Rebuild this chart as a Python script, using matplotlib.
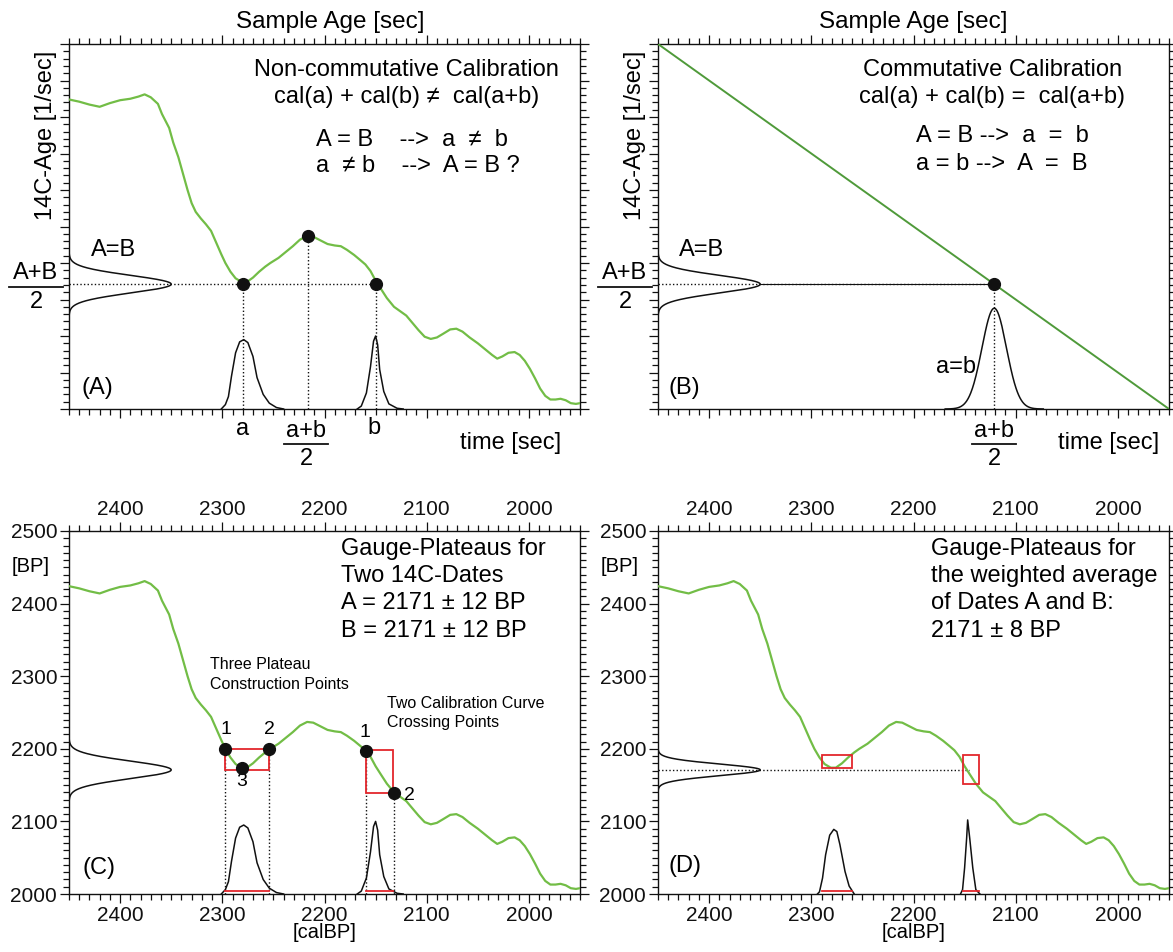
import numpy as np
import matplotlib
matplotlib.use("Agg")
import matplotlib.pyplot as plt
from matplotlib.ticker import MultipleLocator, NullFormatter
from matplotlib.patches import Rectangle
from matplotlib.lines import Line2D

# ── Style ────────────────────────────────────────────────────────────────────
GREEN = "#72bd46"
DGREEN = "#4f9a3a"
RED = "#e3262c"
INK = "#111111"

plt.rcParams.update({
    "font.family": ["Liberation Sans", "DejaVu Sans"],
    "axes.linewidth": 1.0,
    "axes.edgecolor": INK,
    "xtick.color": INK,
    "ytick.color": INK,
})

W, H = 1173, 952

# ── Data ─────────────────────────────────────────────────────────────────────
# calibration curve: calendar age [calBP] -> radiocarbon age [BP]
cal_year = [2450, 2440, 2430, 2420, 2410, 2400, 2390, 2382, 2376, 2370, 2363,
            2359, 2352, 2348, 2343, 2337, 2334, 2330, 2326, 2321, 2316, 2311,
            2306, 2301, 2297, 2292, 2287, 2281, 2276, 2270, 2264, 2258, 2253,
            2245, 2238, 2231, 2224, 2217, 2211, 2204, 2197, 2190, 2184, 2178,
            2171, 2165, 2160, 2155, 2150, 2145, 2139, 2132, 2126, 2120, 2114,
            2108, 2102, 2096, 2090, 2084, 2077, 2071, 2065, 2058, 2050, 2043,
            2036, 2031, 2026, 2020, 2014, 2009, 2004, 1999, 1994, 1989, 1984,
            1979, 1974, 1969, 1964, 1959, 1954, 1950]
cal_bp = [2424, 2421, 2417, 2414, 2419, 2423, 2425, 2428, 2431, 2427, 2418,
          2404, 2385, 2365, 2345, 2315, 2300, 2282, 2270, 2261, 2253, 2244,
          2228, 2212, 2200, 2188, 2179, 2174, 2174, 2180, 2188, 2195, 2200,
          2207, 2215, 2223, 2232, 2237, 2236, 2231, 2226, 2224, 2223, 2218,
          2211, 2204, 2198, 2189, 2176, 2165, 2152, 2140, 2134, 2128, 2118,
          2108, 2099, 2096, 2098, 2103, 2109, 2110, 2106, 2098, 2090, 2082,
          2074, 2069, 2072, 2077, 2078, 2074, 2066, 2055, 2042, 2028, 2018,
          2013, 2013, 2014, 2012, 2008, 2007, 2008]

# radiocarbon dates (BP)
date_mean = 2171
date_sd = 12
wavg_sd = 8

# calibrated probability (drawn as height above the 2000 BP baseline)
c_p1_year = [2301, 2297, 2294, 2291, 2287, 2283, 2279, 2275, 2270, 2266, 2260,
             2254, 2247, 2240]
c_p1_h = [0, 6, 17, 45, 77, 92, 95, 91, 72, 43, 20, 8, 2, 0]
c_p2_year = [2168, 2164, 2159, 2155, 2152, 2150, 2148, 2146, 2142, 2137, 2129,
             2123]
c_p2_h = [0, 4, 22, 58, 93, 100, 88, 54, 24, 7, 1, 0]
d_p1_year = [2294, 2292, 2289, 2286, 2282, 2278, 2275, 2272, 2267, 2263, 2258]
d_p1_h = [0, 3, 22, 54, 81, 89, 86, 68, 31, 11, 0]
d_p2_year = [2154, 2152, 2150, 2148, 2147, 2145, 2142, 2139, 2135]
d_p2_h = [0, 6, 36, 77, 102, 77, 36, 6, 0]

# plateau construction points (C) and gauge boxes
c_pts_year = [2297, 2254, 2281, 2159, 2132]
c_pts_bp = [2200, 2200, 2174, 2197, 2139]
c_pts_lab = ["1", "2", "3", "1", "2"]
c_box1 = (2297, 2254, 2171, 2200)
c_box2 = (2159, 2133, 2139, 2198)
d_box1 = (2290, 2260, 2173, 2192)
d_box2 = (2152, 2136, 2151, 2191)

# non-commutative example (A)
a_year, ab_year, b_year = 2280, 2216, 2150
ab_bp = 2237

# linear calibration (B)
lin_year = [2450, 1950]
lin_bp = [2500, 2000]
b_cross = 2121
b_peak_h = 138


def gauss(v, mu, sd, height):
    return height * np.exp(-0.5 * ((v - mu) / sd) ** 2)


def axrect(l, t, r, b):
    return [l / W, 1 - b / H, (r - l) / W, (b - t) / H]


def fx(x):
    return x / W


def fy(y):
    return 1 - y / H


def frame(ax, labels=True, ymaj=100):
    ax.set_xlim(2450, 1950)
    ax.set_ylim(2000, 2500)
    ax.xaxis.set_major_locator(MultipleLocator(100))
    ax.xaxis.set_minor_locator(MultipleLocator(10))
    ax.yaxis.set_major_locator(MultipleLocator(ymaj))
    ax.yaxis.set_minor_locator(MultipleLocator(10))
    ax.tick_params(which="both", direction="out", top=True, right=True,
                   width=0.9, labelsize=15, pad=2)
    ax.tick_params(which="major", length=6.5)
    ax.tick_params(which="minor", length=4.5)
    if labels:
        ax.tick_params(labeltop=True, labelbottom=True, labelleft=True)
    else:
        ax.xaxis.set_major_formatter(NullFormatter())
        ax.yaxis.set_major_formatter(NullFormatter())


def left_gauss(ax, sd):
    yy = np.linspace(date_mean - 5 * sd, date_mean + 5 * sd, 300)
    ax.plot(2450 - gauss(yy, date_mean, sd, 100), yy, color=INK, lw=1.1,
            zorder=3)


def vdot(ax, x, y0, y1):
    ax.plot([x, x], [y0, y1], color=INK, lw=1.0, ls=(0, (1, 1.6)), zorder=2)


def hdot(ax, x0, x1, y):
    ax.plot([x0, x1], [y, y], color=INK, lw=1.0, ls=(0, (1, 1.6)), zorder=2)


def box(ax, b):
    x0, x1, y0, y1 = b
    ax.add_patch(Rectangle((x1, y0), x0 - x1, y1 - y0, fill=False,
                           edgecolor=RED, lw=1.3, zorder=4))


def fraction(cx, ytop, ybar, ybot, top, halfw, size=17):
    fig.text(fx(cx), fy(ytop), top, ha="center", va="center", fontsize=size)
    fig.text(fx(cx), fy(ybot), "2", ha="center", va="center", fontsize=size)
    fig.add_artist(Line2D([fx(cx - halfw), fx(cx + halfw)], [fy(ybar), fy(ybar)],
                          transform=fig.transFigure, color=INK, lw=1.3))


fig = plt.figure(figsize=(W / 100, H / 100), dpi=100)

# ── (A) non-commutative calibration ──────────────────────────────────────────
ax = fig.add_axes(axrect(69, 44, 580, 409))
frame(ax, labels=False, ymaj=50)
ax.plot(cal_year, cal_bp, color=GREEN, lw=1.6, zorder=3)
left_gauss(ax, date_sd)
hdot(ax, 2450, b_year, date_mean)
vdot(ax, a_year, 2000, date_mean)
vdot(ax, ab_year, 2000, ab_bp)
vdot(ax, b_year, 2000, date_mean)
ax.plot(c_p1_year, [2000 + h for h in c_p1_h], color=INK, lw=1.1, zorder=3)
ax.plot(c_p2_year, [2000 + h for h in c_p2_h], color=INK, lw=1.1, zorder=3)
ax.plot([a_year, ab_year, b_year], [date_mean, ab_bp, date_mean], "o",
        color=INK, ms=8.5, zorder=5)
ax.text(2120, 2465, "Non-commutative Calibration", ha="center", va="center",
        fontsize=17)
ax.text(2120, 2428, "cal(a) + cal(b) \u2260  cal(a+b)", ha="center",
        va="center", fontsize=17)
ax.text(2208, 2369, "A = B    -->  a  \u2260  b", ha="left", va="center",
        fontsize=17)
ax.text(2208, 2333, "a  \u2260 b    -->  A = B ?", ha="left", va="center",
        fontsize=17)
ax.text(2406, 2218, "A=B", ha="center", va="center", fontsize=17)
ax.text(2422, 2029, "(A)", ha="center", va="center", fontsize=17)

fig.text(fx(330), fy(22), "Sample Age [sec]", ha="center", va="center",
         fontsize=17.5)
fig.text(fx(46), fy(135), "14C-Age [1/sec]", ha="center", va="center",
         rotation=90, fontsize=17)
fraction(36, 273, 287, 302, "A+B", 27)
fig.text(fx(243), fy(429), "a", ha="center", va="center", fontsize=17)
fig.text(fx(374), fy(428), "b", ha="center", va="center", fontsize=17)
fraction(306, 431, 444, 459, "a+b", 22)
fig.text(fx(511), fy(443), "time [sec]", ha="center", va="center",
         fontsize=17)

# ── (B) commutative calibration ──────────────────────────────────────────────
ax = fig.add_axes(axrect(658, 44, 1169, 409))
frame(ax, labels=False, ymaj=50)
ax.plot(lin_year, lin_bp, color=DGREEN, lw=1.4, zorder=3)
left_gauss(ax, date_sd)
hdot(ax, 2450, b_cross, date_mean)
ax.plot([2350, b_cross], [date_mean, date_mean], color=INK, lw=0.8, zorder=2)
vdot(ax, b_cross, 2000, date_mean)
xx = np.linspace(b_cross - 4 * date_sd, b_cross + 4 * date_sd, 300)
ax.plot(xx, 2000 + gauss(xx, b_cross, date_sd, b_peak_h), color=INK, lw=1.1,
        zorder=3)
ax.plot([b_cross], [date_mean], "o", color=INK, ms=8.5, zorder=5)
ax.text(2123, 2465, "Commutative Calibration", ha="center", va="center",
        fontsize=17)
ax.text(2123, 2428, "cal(a) + cal(b) =  cal(a+b)", ha="center", va="center",
        fontsize=17)
ax.text(2198, 2374, "A = B -->  a  =  b", ha="left", va="center",
        fontsize=17)
ax.text(2198, 2335, "a = b -->  A  =  B", ha="left", va="center",
        fontsize=17)
ax.text(2407, 2218, "A=B", ha="center", va="center", fontsize=17)
ax.text(2424, 2029, "(B)", ha="center", va="center", fontsize=17)
ax.text(2158, 2058, "a=b", ha="center", va="center", fontsize=17)

fig.text(fx(913), fy(22), "Sample Age [sec]", ha="center", va="center",
         fontsize=17.5)
fig.text(fx(635), fy(135), "14C-Age [1/sec]", ha="center", va="center",
         rotation=90, fontsize=17)
fraction(625, 273, 287, 302, "A+B", 27)
fraction(994, 431, 444, 459, "a+b", 22)
fig.text(fx(1109), fy(443), "time [sec]", ha="center", va="center",
         fontsize=17)

# ── (C) gauge plateaus for two dates ─────────────────────────────────────────
ax = fig.add_axes(axrect(69, 531, 580, 894))
frame(ax)
ax.plot(cal_year, cal_bp, color=GREEN, lw=1.6, zorder=3)
left_gauss(ax, date_sd)
for x, y in zip(c_pts_year, c_pts_bp):
    if y > 2190 or x < 2150:
        vdot(ax, x, 2000, y)
ax.plot(c_p1_year, [2000 + h for h in c_p1_h], color=INK, lw=1.1, zorder=3)
ax.plot(c_p2_year, [2000 + h for h in c_p2_h], color=INK, lw=1.1, zorder=3)
box(ax, c_box1)
box(ax, c_box2)
for b in (c_box1, c_box2):
    ax.plot([b[0], b[1]], [2004, 2004], color=RED, lw=1.3, zorder=4)
ax.plot(c_pts_year, c_pts_bp, "o", color=INK, ms=8.5, zorder=5)
lab_pos = [(2296, 2227), (2254, 2226), (2281, 2155), (2160, 2222),
           (2117, 2136)]
for (x, y), t in zip(lab_pos, c_pts_lab):
    ax.text(x, y, t, ha="center", va="center", fontsize=14)
ax.text(2184, 2490, "Gauge-Plateaus for\nTwo 14C-Dates\n"
        "A = 2171 \u00b1 12 BP\nB = 2171 \u00b1 12 BP", ha="left", va="top",
        fontsize=17, linespacing=1.3)
ax.text(2312, 2326, "Three Plateau\nConstruction Points", ha="left",
        va="top", fontsize=11.5, linespacing=1.35)
ax.text(2139, 2273, "Two Calibration Curve\nCrossing Points", ha="left",
        va="top", fontsize=11.5, linespacing=1.35)
ax.text(2421, 2036, "(C)", ha="center", va="center", fontsize=17)
fig.text(fx(50), fy(566), "[BP]", ha="right", va="center", fontsize=14.5)
fig.text(fx(325), fy(933), "[calBP]", ha="center", va="center", fontsize=14.5)

# ── (D) gauge plateaus for the weighted average ──────────────────────────────
ax = fig.add_axes(axrect(658, 531, 1169, 894))
frame(ax)
ax.plot(cal_year, cal_bp, color=GREEN, lw=1.6, zorder=3)
left_gauss(ax, wavg_sd)
hdot(ax, 2450, 2146, date_mean)
ax.plot(d_p1_year, [2000 + h for h in d_p1_h], color=INK, lw=1.1, zorder=3)
ax.plot(d_p2_year, [2000 + h for h in d_p2_h], color=INK, lw=1.1, zorder=3)
box(ax, d_box1)
box(ax, d_box2)
for b in (d_box1, d_box2):
    ax.plot([b[0], b[1]], [2004, 2004], color=RED, lw=1.3, zorder=4)
ax.text(2183, 2490, "Gauge-Plateaus for\nthe weighted average\n"
        "of Dates A and B:\n2171 \u00b1 8 BP", ha="left", va="top",
        fontsize=17, linespacing=1.3)
ax.text(2424, 2038, "(D)", ha="center", va="center", fontsize=17)
fig.text(fx(639), fy(566), "[BP]", ha="right", va="center", fontsize=14.5)
fig.text(fx(914), fy(933), "[calBP]", ha="center", va="center", fontsize=14.5)

fig.savefig("out.png", dpi=100)
